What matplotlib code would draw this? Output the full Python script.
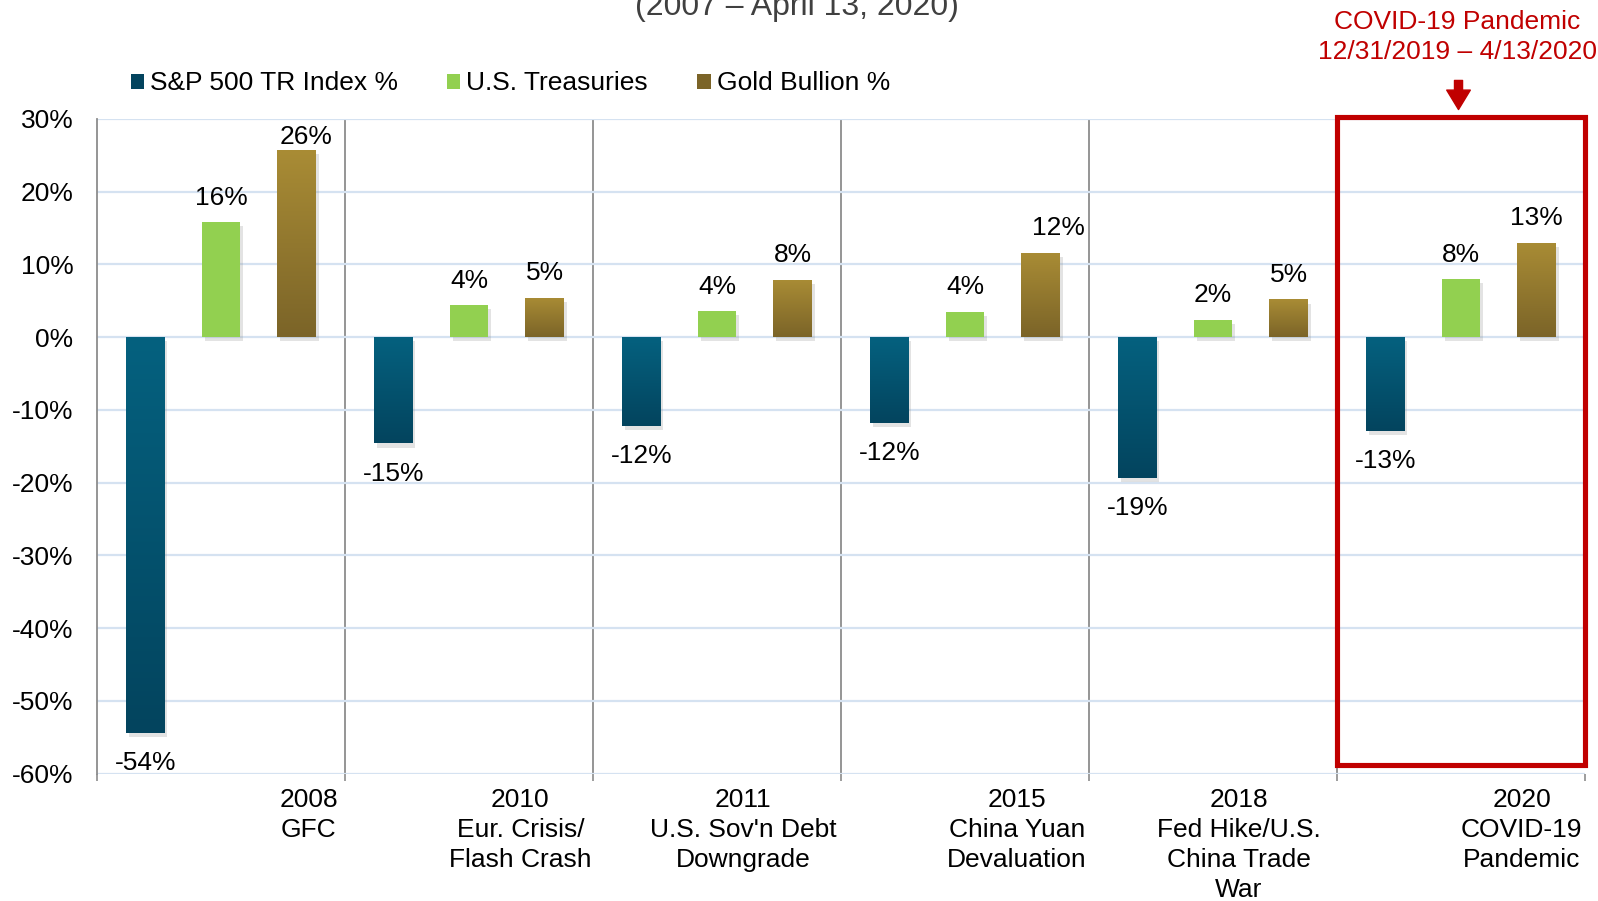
import numpy as np
import matplotlib
matplotlib.use("Agg")
import matplotlib.pyplot as plt
from matplotlib.patches import Patch, Rectangle
from matplotlib.colors import to_rgb
import matplotlib.patheffects as pe
from matplotlib.ticker import FuncFormatter

plt.rcParams['font.family'] = ['Liberation Sans', 'DejaVu Sans']

# ---------------- data ----------------
categories = ["2008\nGFC", "2010\nEur. Crisis/\nFlash Crash", "2011\nU.S. Sov'n Debt\nDowngrade",
              "2015\nChina Yuan\nDevaluation", "2018\nFed Hike/U.S.\nChina Trade\nWar",
              "2020\nCOVID-19\nPandemic"]
series_names = ["S&P 500 TR Index %", "U.S. Treasuries", "Gold Bullion %"]
sp500 = [-54.4, -14.6, -12.2, -11.8, -19.4, -12.9]
treasuries = [15.8, 4.4, 3.6, 3.5, 2.4, 8.0]
gold = [25.7, 5.4, 7.9, 11.6, 5.2, 13.0]
yticks = [30, 20, 10, 0, -10, -20, -30, -40, -50, -60]
title_text = "(2007 \u2013 April 13, 2020)"
callout_text = "COVID-19 Pandemic\n12/31/2019 \u2013 4/13/2020"

# ---------------- style ----------------
sp_top, sp_bot = "#05617f", "#03445e"
tr_col = "#92d050"
gd_top, gd_bot = "#a98c35", "#7b6428"
red = "#c00000"
fs = 19

W, H = 1598, 901
fig = plt.figure(figsize=(W / 100, H / 100), dpi=100)
ax = fig.add_axes([97 / W, 1 - 773.6 / H, (1585 - 97) / W, (773.6 - 119) / H])

offsets = [0.195, 0.5, 0.805]
bw = 0.155
x = np.arange(len(categories))

shadow = [pe.SimplePatchShadow(offset=(2, -3), shadow_rgbFace="#909090", alpha=0.25), pe.Normal()]


def grad_fill(bars, ctop, cbot):
    c1 = np.array(to_rgb(ctop))
    c2 = np.array(to_rgb(cbot))
    t = np.linspace(0, 1, 256)[:, None, None]
    img = c1 * (1 - t) + c2 * t
    for b in bars:
        x0, y0 = b.get_x(), b.get_y()
        w, h = b.get_width(), b.get_height()
        ylo, yhi = min(y0, y0 + h), max(y0, y0 + h)
        im = ax.imshow(img, extent=(x0, x0 + w, ylo, yhi), origin="upper",
                       aspect="auto", zorder=b.get_zorder() + 0.1, interpolation="bilinear")
        im.set_clip_path(b)


b1 = ax.bar(x + offsets[0], sp500, bw, color=sp_top, zorder=3, path_effects=shadow)
b2 = ax.bar(x + offsets[1], treasuries, bw, color=tr_col, zorder=3, path_effects=shadow)
b3 = ax.bar(x + offsets[2], gold, bw, color=gd_top, zorder=3, path_effects=shadow)
grad_fill(b1, sp_top, sp_bot)
grad_fill(b3, gd_top, gd_bot)

# value labels (a couple of gold labels sit slightly right of their bar in the original)
gold_label_dx = [0.04, 0.0, 0.0, 0.07, 0.0, 0.0]
for bars, vals, dxs in ((b1, sp500, [0] * 6), (b2, treasuries, [0] * 6), (b3, gold, gold_label_dx)):
    for b, v, dx in zip(bars, vals, dxs):
        cx = b.get_x() + b.get_width() / 2 + dx
        lab = f"{v:.0f}%"
        if v >= 0:
            yy = min(v + 2.4, 26.6)
            ax.text(cx, yy, lab, ha="center", va="baseline", fontsize=fs, zorder=6)
        else:
            ax.text(cx, v - 2.5, lab, ha="center", va="top", fontsize=fs, zorder=6)

ax.set_xlim(0, len(categories))
ax.set_ylim(-60, 30)

# grid & separators
ax.set_yticks(yticks)
ax.yaxis.set_major_formatter(FuncFormatter(lambda v, p: f"{int(v)}%"))
ax.tick_params(axis="y", length=0, pad=17, labelsize=fs)
ax.grid(axis="y", color="#d5e2f1", linewidth=1.6, zorder=0)
ax.set_xticks(np.arange(len(categories) + 1))
ax.set_xticklabels([])
ax.tick_params(axis="x", length=5, color="#8c8c8c", width=1.2)
ax.vlines(np.arange(1, len(categories)), -60, 30, color="#8c8c8c", linewidth=1.3, zorder=1)
for s in ("top", "right", "bottom"):
    ax.spines[s].set_visible(False)
ax.spines["left"].set_color("#8c8c8c")
ax.spines["left"].set_linewidth(1.3)

# category labels
label_offsets = [0.853, 0.707, 0.606, 0.709, 0.604, 0.745]
for i, (c, o) in enumerate(zip(categories, label_offsets)):
    ax.annotate(c, xy=(i + o, 0), xycoords=("data", "axes fraction"), xytext=(0, -10.5),
                textcoords="offset points", ha="center", va="top", fontsize=fs,
                linespacing=1.31, annotation_clip=False)

# legend
handles = [Patch(facecolor=sp_bot), Patch(facecolor=tr_col), Patch(facecolor=gd_bot)]
fig.legend(handles, series_names, loc="center left", bbox_to_anchor=(130.5 / W, 1 - 83.5 / H),
           ncol=3, frameon=False, fontsize=fs, handlelength=0.5, handleheight=0.5,
           handletextpad=0.23, columnspacing=1.87, borderpad=0, borderaxespad=0)

# title (cut at top)
fig.text(797 / W, 1 - 14.5 / H, title_text, ha="center", va="baseline", fontsize=23, color="#404040")

# COVID callout
fig.text(1457 / W, 1 - 37 / H, callout_text, ha="center", va="center", fontsize=fs,
         color=red, linespacing=1.34)
rect = Rectangle((5.0, -58.8), 1.0, 30.3 + 58.8, fill=False, edgecolor=red, linewidth=3.7,
                 zorder=7, clip_on=False)
ax.add_patch(rect)
ax.annotate("", xy=(5.49, 31.3), xytext=(5.49, 35.3), annotation_clip=False,
            arrowprops=dict(arrowstyle="simple,head_length=14,head_width=17,tail_width=5.8",
                            mutation_scale=1, color=red, shrinkA=0, shrinkB=0))

fig.savefig("out.png", dpi=100)
